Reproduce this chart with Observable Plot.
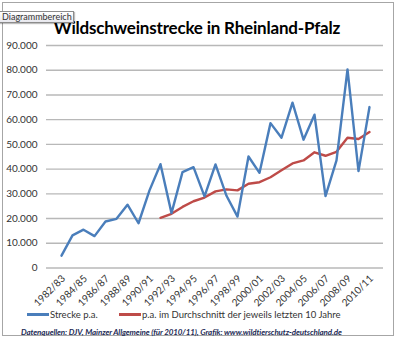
<!DOCTYPE html>
<html>
<head>
<meta charset="utf-8">
<script src="https://cdn.jsdelivr.net/npm/d3@7"></script>
<script src="https://cdn.jsdelivr.net/npm/@observablehq/plot@0.6"></script>
<style>
  html, body { margin: 0; padding: 0; background: #fff; }
  #wrap { position: relative; width: 400px; height: 342px; overflow: hidden; font-family: Lato, "Open Sans", sans-serif; }
  #frame { position: absolute; left: 2px; top: 2px; width: 392px; height: 334px; border: 1px solid #a6a6a6; box-sizing: border-box; }
  #title { position: absolute; left: 0; width: 394px; top: 17px; text-align: center; font-weight: bold; font-size: 17px; color: #000; letter-spacing: -0.2px; }
  #tip { position: absolute; left: -2px; top: 11px; height: 12px; width: 76px; box-sizing: border-box; border: 1px solid #8c8c8c; background: linear-gradient(#ffffff, #e8e8ee); font-size: 9px; line-height: 10px; color: #333; padding-left: 3px; box-shadow: 1px 1px 1px rgba(0,0,0,0.25); }
  #legend { position: absolute; top: 309px; left: 0; width: 400px; font-size: 9.5px; color: #333; }
  .li { position: absolute; top: 0; white-space: nowrap; }
  .sw { display: inline-block; width: 22px; height: 3px; vertical-align: middle; margin-right: 1px; position: relative; top: -1px; }
  #caption { position: absolute; top: 327px; left: 21px; font-size: 8px; letter-spacing: -0.1px; font-weight: bold; font-style: italic; color: #1c2a55; white-space: nowrap; }
  #chart { position: absolute; left: 0; top: 0; }
</style>
</head>
<body>
<div id="wrap">
  <div id="chart"></div>
  <div id="frame"></div>
  <div id="title">Wildschweinstrecke in Rheinland-Pfalz</div>
  <div id="tip">Diagrammbereich</div>
  <div id="legend"></div>
  <div id="caption">Datenquellen: DJV, Mainzer Allgemeine (für 2010/11), Grafik: www.wildtierschutz-deutschland.de</div>
</div>
<script>
const seasons = ["1982/83","1983/84","1984/85","1985/86","1986/87","1987/88","1988/89","1989/90","1990/91","1991/92",
  "1992/93","1993/94","1994/95","1995/96","1996/97","1997/98","1998/99","1999/00","2000/01","2001/02",
  "2002/03","2003/04","2004/05","2005/06","2006/07","2007/08","2008/09","2009/10","2010/11"];
const tickLabels = ["1982/83","1984/85","1986/87","1988/89","1990/91","1992/93","1994/95","1996/97","1998/99",
  "2000/01","2002/03","2004/05","2006/07","2008/09","2010/11"];
const streckeValues = [5000, 13200, 15500, 12900, 18800, 19900, 25600, 18100, 31400, 42000,
  22200, 38800, 40800, 29000, 41900, 29200, 20800, 45100, 38500, 58600,
  52700, 66900, 51900, 62000, 29100, 43500, 80300, 39200, 65100];
const avgValues = [null, null, null, null, null, null, null, null, null, 20300,
  21900, 24700, 27000, 28500, 31000, 31800, 31400, 34100, 34700, 36700,
  39500, 42300, 43500, 46800, 45400, 47000, 52700, 52200, 55000];
const yTicks = [0, 10000, 20000, 30000, 40000, 50000, 60000, 70000, 80000, 90000];
const seriesNames = ["Strecke p.a.", "p.a. im Durchschnitt der jeweils letzten 10 Jahre"];
const seriesColors = ["#4a7ebb", "#be4b48"];

const deFmt = d3.formatLocale({decimal: ",", thousands: ".", grouping: [3], currency: ["", "€"]}).format(",");

const blue = seasons.map((s, i) => ({season: s, value: streckeValues[i]}));
const red = seasons.map((s, i) => ({season: s, value: avgValues[i]})).filter(d => d.value != null);

const chart = Plot.plot({
  width: 400,
  height: 342,
  marginTop: 45,
  marginBottom: 74.5,
  marginLeft: 46,
  marginRight: 17,
  style: {fontFamily: "Lato, 'Open Sans', sans-serif", fontSize: "10px", color: "#333", background: "transparent"},
  x: {type: "point", domain: seasons, padding: 0.5},
  y: {domain: [0, 90000]},
  marks: [
    Plot.ruleY(yTicks, {stroke: "#b8b8b8", strokeWidth: 1.4}),
    Plot.axisY({ticks: yTicks, tickFormat: deFmt, tickSize: 0, tickPadding: 9, fontSize: 10, label: null}),
    Plot.axisX({ticks: tickLabels, tickRotate: -45, tickSize: 0, tickPadding: 9, dx: 2, fontSize: 10, label: null}),
    Plot.line(red, {x: "season", y: "value", stroke: seriesColors[1], strokeWidth: 2.4}),
    Plot.line(blue, {x: "season", y: "value", stroke: seriesColors[0], strokeWidth: 2.4})
  ]
});
document.getElementById("chart").appendChild(chart);

const legend = document.getElementById("legend");
const legendX = [27, 119];
seriesNames.forEach((name, i) => {
  const item = document.createElement("div");
  item.className = "li";
  item.style.left = legendX[i] + "px";
  item.innerHTML = `<span class="sw" style="background:${seriesColors[i]}"></span>${name}`;
  legend.appendChild(item);
});
</script>
</body>
</html>
